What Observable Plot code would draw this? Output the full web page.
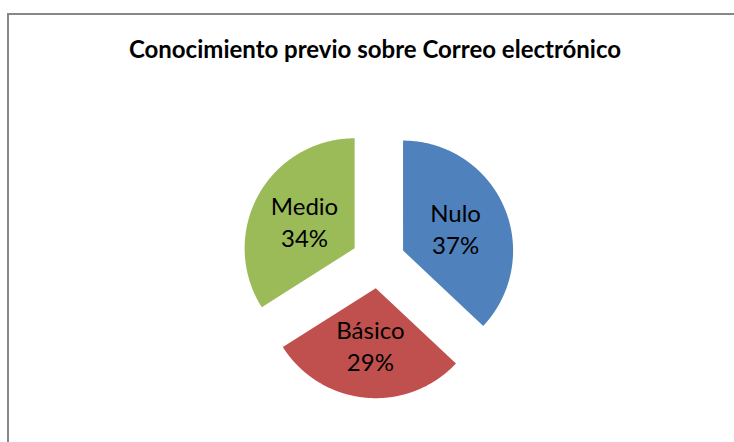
<!DOCTYPE html>
<html>
<head>
<meta charset="utf-8">
<script src="https://cdn.jsdelivr.net/npm/d3@7"></script>
<script src="https://cdn.jsdelivr.net/npm/@observablehq/plot@0.6"></script>
<style>
  html, body { margin: 0; padding: 0; background: #fff; }
  body { width: 734px; height: 442px; position: relative; overflow: hidden; font-family: Lato, "Open Sans", sans-serif; }
  #frame { position: absolute; left: 7px; top: 13px; width: 740px; height: 440px;
           border-top: 2px solid #878787; border-left: 2px solid #878787; }
  #title { position: absolute; left: 0; width: 750px; top: 34px; line-height: 30px;
           text-align: center; font-weight: bold; font-size: 24px; color: #000; }
  #chart { position: absolute; left: 0; top: 80px; }
</style>
</head>
<body>
<div id="frame"></div>
<div id="title">Conocimiento previo sobre Correo electrónico</div>
<div id="chart"></div>
<script>
// ---- data ----
const categories = ["Nulo", "Básico", "Medio"];
const values = [37, 29, 34];
const colors = ["#4F81BD", "#C0504D", "#9BBB59"];

// ---- geometry (pie drawn in data units; radius = 1) ----
const W = 734, H = 362;
const CX = 377.8, CY = 180.8, R = 110;   // pixel placement of the pie centre and radius
const EXPLODE = 27 / R;                  // explosion distance in radius units
const LABEL_R = 0.52;

const arcs = d3.pie().sort(null).value(v => v)(values);
const slicePts = [];
const labels = [];
arcs.forEach((a, i) => {
  const bis = (a.startAngle + a.endAngle) / 2;
  const ox = EXPLODE * Math.sin(bis), oy = EXPLODE * Math.cos(bis);
  slicePts.push({cat: categories[i], x: ox, y: oy});
  const n = Math.ceil((a.endAngle - a.startAngle) / 0.005);
  for (let k = 0; k <= n; k++) {
    const t = a.startAngle + (a.endAngle - a.startAngle) * k / n;
    slicePts.push({cat: categories[i], x: ox + Math.sin(t), y: oy + Math.cos(t)});
  }
  labels.push({cat: categories[i], pct: values[i],
               x: ox + LABEL_R * Math.sin(bis), y: oy + LABEL_R * Math.cos(bis)});
});

const chart = Plot.plot({
  width: W, height: H, margin: 0,
  style: {background: "transparent", fontFamily: "Lato, 'Open Sans', sans-serif"},
  x: {domain: [-CX / R, (W - CX) / R], axis: null},
  y: {domain: [-(H - CY) / R, CY / R], axis: null},
  color: {domain: categories, range: colors},
  marks: [
    Plot.line(slicePts, {x: "x", y: "y", z: "cat", fill: "cat", stroke: "none", curve: "linear-closed"}),
    Plot.text(labels, {x: "x", y: "y", text: d => `${d.cat}\n${d.pct}%`,
                       fontSize: 24, lineHeight: 1.33, fill: "#000"})
  ]
});
document.getElementById("chart").appendChild(chart);
</script>
</body>
</html>
